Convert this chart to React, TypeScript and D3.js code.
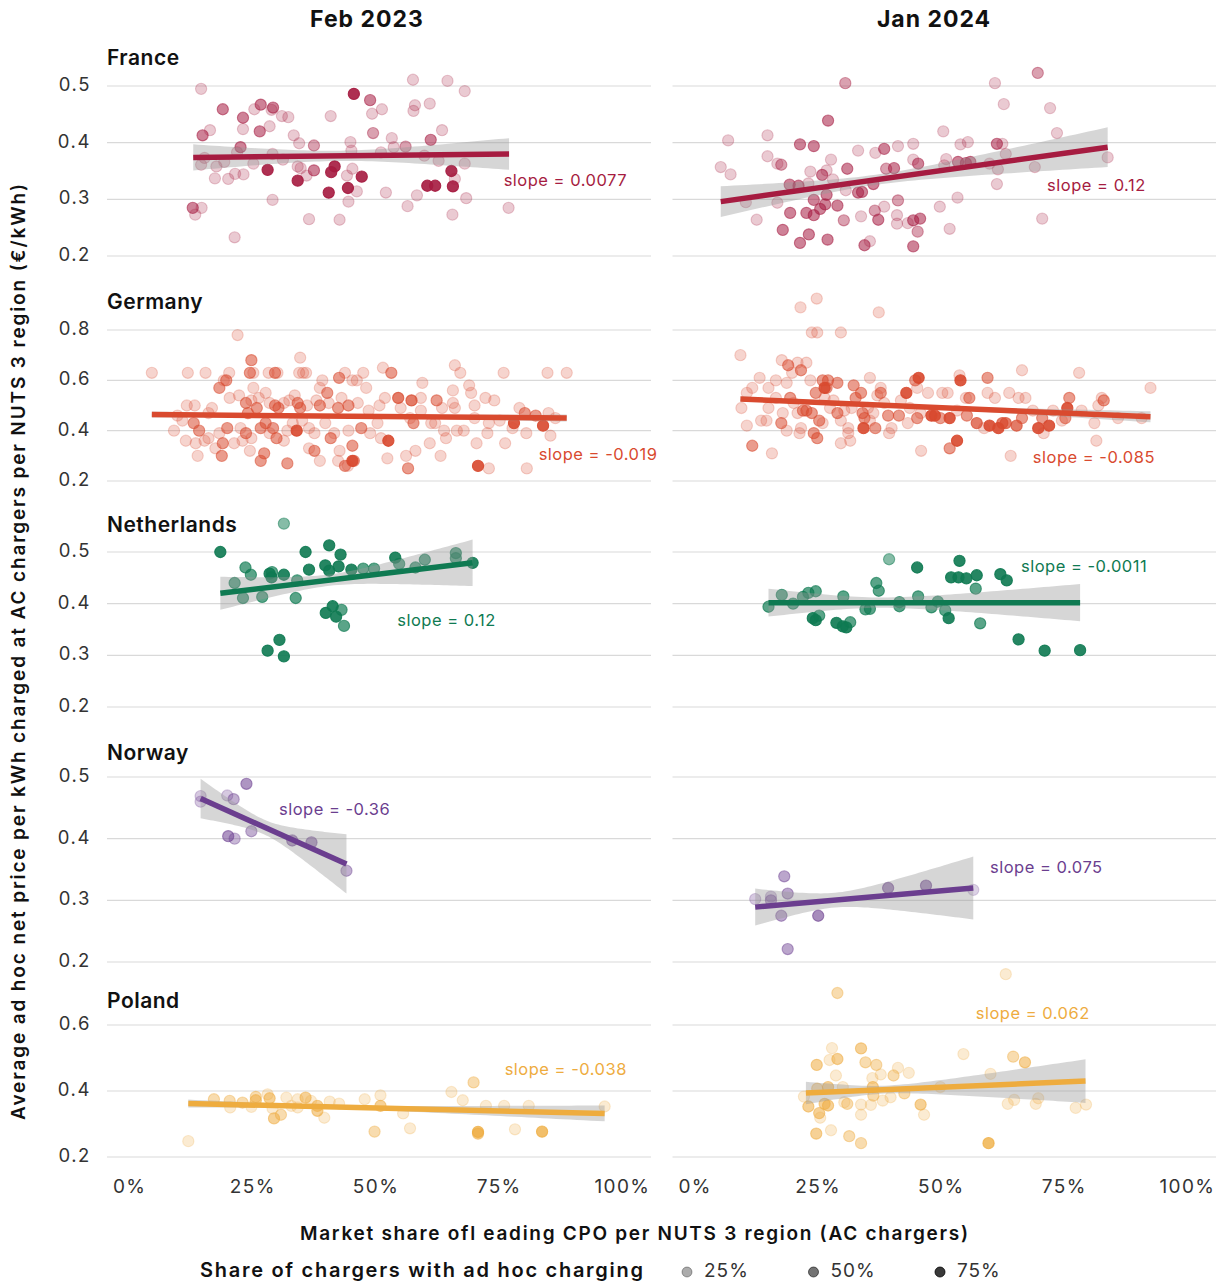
import React from "react";
import * as d3 from "d3";

// ---- data ----
const countries = ["France", "Germany", "Netherlands", "Norway", "Poland"];
const periods = ["Feb 2023", "Jan 2024"];
const countryColors = ["#a61c41", "#d94a2f", "#0f7a52", "#6b3e8f", "#eeac3f"];

const yTicks = [
  [0.2, 0.3, 0.4, 0.5],
  [0.2, 0.4, 0.6, 0.8],
  [0.2, 0.3, 0.4, 0.5],
  [0.2, 0.3, 0.4, 0.5],
  [0.2, 0.4, 0.6],
];
const xTicks = [0, 0.25, 0.5, 0.75, 1];
const legendShares = [0.25, 0.5, 0.75];

// points: [market share of leading CPO, price €/kWh, share with ad hoc charging]
const franceFeb2023 = [
  [0.141, 0.495, 0.15], [0.571, 0.511, 0.15], [0.641, 0.509, 0.15], [0.676, 0.491, 0.15], [0.451, 0.486, 0.9],
  [0.484, 0.475, 0.5], [0.185, 0.459, 0.5], [0.262, 0.467, 0.5], [0.249, 0.459, 0.15], [0.287, 0.462, 0.5],
  [0.284, 0.458, 0.15], [0.226, 0.444, 0.5], [0.305, 0.447, 0.15], [0.318, 0.445, 0.15], [0.404, 0.447, 0.15],
  [0.508, 0.459, 0.15], [0.488, 0.451, 0.15], [0.575, 0.466, 0.15], [0.572, 0.456, 0.15], [0.605, 0.469, 0.15],
  [0.159, 0.422, 0.15], [0.144, 0.413, 0.5], [0.226, 0.424, 0.15], [0.26, 0.42, 0.5], [0.28, 0.429, 0.15],
  [0.329, 0.413, 0.15], [0.34, 0.399, 0.15], [0.37, 0.395, 0.35], [0.444, 0.401, 0.15], [0.49, 0.417, 0.35],
  [0.528, 0.408, 0.15], [0.607, 0.405, 0.5], [0.63, 0.422, 0.15], [0.221, 0.392, 0.5], [0.214, 0.383, 0.15],
  [0.148, 0.373, 0.15], [0.141, 0.361, 0.15], [0.172, 0.358, 0.15], [0.188, 0.366, 0.15], [0.247, 0.363, 0.15],
  [0.286, 0.38, 0.15], [0.307, 0.37, 0.15], [0.276, 0.352, 0.9], [0.169, 0.337, 0.15], [0.196, 0.336, 0.15],
  [0.21, 0.345, 0.15], [0.227, 0.344, 0.15], [0.337, 0.358, 0.15], [0.343, 0.355, 0.15], [0.355, 0.342, 0.15],
  [0.37, 0.351, 0.5], [0.412, 0.358, 0.9], [0.405, 0.348, 0.9], [0.437, 0.342, 0.15], [0.448, 0.354, 0.15],
  [0.446, 0.386, 0.15], [0.467, 0.34, 0.9], [0.337, 0.333, 0.9], [0.4, 0.312, 0.9], [0.439, 0.32, 0.9],
  [0.457, 0.314, 0.15], [0.44, 0.296, 0.15], [0.516, 0.312, 0.15], [0.506, 0.383, 0.15], [0.532, 0.392, 0.15],
  [0.556, 0.393, 0.35], [0.594, 0.377, 0.15], [0.623, 0.368, 0.15], [0.676, 0.363, 0.15], [0.649, 0.35, 0.9],
  [0.656, 0.336, 0.15], [0.6, 0.324, 0.9], [0.616, 0.324, 0.9], [0.652, 0.323, 0.9], [0.579, 0.307, 0.15],
  [0.56, 0.288, 0.15], [0.679, 0.302, 0.15], [0.765, 0.285, 0.15], [0.651, 0.273, 0.15], [0.286, 0.299, 0.15],
  [0.124, 0.285, 0.5], [0.142, 0.285, 0.15], [0.129, 0.273, 0.15], [0.209, 0.233, 0.15], [0.36, 0.265, 0.15],
  [0.422, 0.264, 0.15],
];

const franceJan2024 = [
  [0.692, 0.523, 0.35], [0.301, 0.505, 0.35], [0.605, 0.505, 0.15], [0.623, 0.468, 0.15], [0.717, 0.461, 0.15],
  [0.266, 0.439, 0.5], [0.731, 0.417, 0.15], [0.063, 0.404, 0.15], [0.143, 0.413, 0.15], [0.209, 0.397, 0.5],
  [0.237, 0.394, 0.5], [0.327, 0.386, 0.15], [0.362, 0.382, 0.15], [0.38, 0.389, 0.5], [0.408, 0.394, 0.15],
  [0.439, 0.398, 0.15], [0.5, 0.42, 0.15], [0.535, 0.397, 0.15], [0.55, 0.401, 0.15], [0.609, 0.398, 0.5],
  [0.62, 0.398, 0.15], [0.143, 0.376, 0.15], [0.163, 0.363, 0.15], [0.171, 0.361, 0.35], [0.048, 0.357, 0.15],
  [0.068, 0.344, 0.15], [0.272, 0.37, 0.15], [0.23, 0.349, 0.15], [0.254, 0.343, 0.5], [0.263, 0.351, 0.15],
  [0.305, 0.354, 0.5], [0.384, 0.354, 0.35], [0.4, 0.355, 0.5], [0.439, 0.37, 0.15], [0.449, 0.363, 0.5],
  [0.506, 0.371, 0.15], [0.53, 0.366, 0.5], [0.546, 0.364, 0.5], [0.555, 0.366, 0.5], [0.502, 0.36, 0.15],
  [0.594, 0.363, 0.15], [0.611, 0.353, 0.15], [0.627, 0.38, 0.15], [0.686, 0.357, 0.15], [0.834, 0.374, 0.15],
  [0.609, 0.327, 0.15], [0.188, 0.326, 0.5], [0.206, 0.324, 0.5], [0.226, 0.328, 0.15], [0.276, 0.335, 0.15],
  [0.263, 0.308, 0.5], [0.26, 0.291, 0.5], [0.25, 0.283, 0.5], [0.237, 0.299, 0.5], [0.285, 0.289, 0.5],
  [0.302, 0.316, 0.15], [0.327, 0.312, 0.5], [0.335, 0.313, 0.5], [0.358, 0.327, 0.5], [0.099, 0.295, 0.15],
  [0.163, 0.294, 0.15], [0.121, 0.264, 0.15], [0.189, 0.276, 0.5], [0.222, 0.276, 0.5], [0.237, 0.272, 0.5],
  [0.174, 0.246, 0.5], [0.227, 0.238, 0.5], [0.209, 0.223, 0.5], [0.265, 0.229, 0.5], [0.298, 0.263, 0.35],
  [0.333, 0.27, 0.15], [0.34, 0.219, 0.5], [0.351, 0.226, 0.15], [0.361, 0.28, 0.35], [0.368, 0.264, 0.5],
  [0.38, 0.287, 0.15], [0.406, 0.272, 0.15], [0.408, 0.298, 0.35], [0.406, 0.257, 0.15], [0.428, 0.258, 0.15],
  [0.439, 0.263, 0.5], [0.453, 0.266, 0.5], [0.448, 0.243, 0.35], [0.439, 0.217, 0.5], [0.493, 0.287, 0.15],
  [0.513, 0.248, 0.15], [0.529, 0.303, 0.15], [0.701, 0.266, 0.15],
];

const germanyFeb2023 = [
  [0.041, 0.63, 0.15], [0.114, 0.63, 0.15], [0.15, 0.63, 0.15], [0.198, 0.63, 0.15], [0.24, 0.63, 0.5],
  [0.247, 0.63, 0.15], [0.278, 0.63, 0.15], [0.291, 0.63, 0.5], [0.296, 0.63, 0.15], [0.34, 0.63, 0.15],
  [0.348, 0.63, 0.15], [0.354, 0.63, 0.15], [0.433, 0.63, 0.15], [0.47, 0.63, 0.15], [0.755, 0.63, 0.15],
  [0.844, 0.63, 0.15], [0.883, 0.63, 0.15], [0.215, 0.78, 0.15], [0.342, 0.69, 0.15], [0.243, 0.68, 0.5],
  [0.51, 0.65, 0.15], [0.527, 0.63, 0.5], [0.656, 0.66, 0.15], [0.667, 0.63, 0.15], [0.192, 0.6, 0.5],
  [0.187, 0.6, 0.15], [0.178, 0.57, 0.5], [0.247, 0.57, 0.15], [0.387, 0.6, 0.15], [0.421, 0.61, 0.5],
  [0.448, 0.6, 0.15], [0.457, 0.6, 0.15], [0.382, 0.57, 0.15], [0.397, 0.55, 0.5], [0.476, 0.57, 0.15],
  [0.59, 0.59, 0.15], [0.652, 0.56, 0.15], [0.685, 0.58, 0.15], [0.689, 0.55, 0.15], [0.199, 0.53, 0.15],
  [0.218, 0.54, 0.15], [0.232, 0.51, 0.5], [0.243, 0.52, 0.15], [0.258, 0.53, 0.15], [0.272, 0.55, 0.15],
  [0.254, 0.49, 0.5], [0.236, 0.47, 0.5], [0.28, 0.51, 0.15], [0.291, 0.5, 0.5], [0.298, 0.49, 0.5],
  [0.309, 0.51, 0.15], [0.32, 0.52, 0.15], [0.331, 0.54, 0.15], [0.342, 0.49, 0.5], [0.337, 0.51, 0.5],
  [0.356, 0.5, 0.15], [0.375, 0.52, 0.15], [0.382, 0.5, 0.5], [0.4, 0.51, 0.15], [0.419, 0.49, 0.5],
  [0.426, 0.53, 0.15], [0.44, 0.5, 0.5], [0.459, 0.51, 0.15], [0.481, 0.48, 0.15], [0.503, 0.5, 0.15],
  [0.514, 0.53, 0.15], [0.541, 0.53, 0.7], [0.546, 0.49, 0.15], [0.568, 0.52, 0.7], [0.587, 0.53, 0.15],
  [0.587, 0.48, 0.15], [0.619, 0.52, 0.5], [0.63, 0.49, 0.15], [0.652, 0.51, 0.15], [0.656, 0.49, 0.15],
  [0.696, 0.5, 0.15], [0.718, 0.53, 0.15], [0.736, 0.52, 0.15], [0.787, 0.49, 0.15], [0.798, 0.47, 0.5],
  [0.82, 0.46, 0.5], [0.86, 0.45, 0.15], [0.846, 0.47, 0.15], [0.112, 0.5, 0.15], [0.128, 0.5, 0.15],
  [0.093, 0.46, 0.15], [0.103, 0.44, 0.15], [0.163, 0.49, 0.15], [0.156, 0.47, 0.15], [0.126, 0.43, 0.5],
  [0.137, 0.4, 0.5], [0.086, 0.4, 0.15], [0.11, 0.36, 0.15], [0.13, 0.35, 0.15], [0.148, 0.36, 0.15],
  [0.156, 0.37, 0.15], [0.178, 0.39, 0.15], [0.194, 0.41, 0.5], [0.185, 0.35, 0.5], [0.17, 0.33, 0.15],
  [0.134, 0.3, 0.15], [0.183, 0.3, 0.5], [0.208, 0.35, 0.15], [0.225, 0.36, 0.15], [0.232, 0.39, 0.5],
  [0.221, 0.41, 0.15], [0.24, 0.32, 0.15], [0.243, 0.37, 0.15], [0.262, 0.41, 0.5], [0.272, 0.43, 0.5],
  [0.287, 0.41, 0.5], [0.28, 0.39, 0.15], [0.269, 0.31, 0.5], [0.262, 0.28, 0.5], [0.294, 0.37, 0.5],
  [0.309, 0.36, 0.15], [0.316, 0.4, 0.15], [0.335, 0.4, 0.9], [0.327, 0.43, 0.15], [0.346, 0.44, 0.15],
  [0.36, 0.41, 0.15], [0.371, 0.39, 0.15], [0.36, 0.33, 0.15], [0.371, 0.32, 0.5], [0.382, 0.28, 0.15],
  [0.393, 0.43, 0.15], [0.404, 0.37, 0.5], [0.411, 0.39, 0.15], [0.422, 0.32, 0.15], [0.419, 0.28, 0.15],
  [0.433, 0.26, 0.5], [0.439, 0.26, 0.15], [0.448, 0.34, 0.5], [0.451, 0.28, 0.5], [0.44, 0.4, 0.15],
  [0.466, 0.41, 0.5], [0.484, 0.39, 0.15], [0.499, 0.43, 0.15], [0.521, 0.36, 0.9], [0.506, 0.37, 0.15],
  [0.519, 0.29, 0.15], [0.557, 0.3, 0.15], [0.561, 0.25, 0.5], [0.576, 0.32, 0.15], [0.572, 0.43, 0.5],
  [0.565, 0.45, 0.15], [0.605, 0.35, 0.15], [0.608, 0.43, 0.15], [0.616, 0.43, 0.15], [0.634, 0.4, 0.15],
  [0.627, 0.3, 0.15], [0.638, 0.37, 0.15], [0.66, 0.4, 0.15], [0.674, 0.4, 0.15], [0.696, 0.45, 0.15],
  [0.7, 0.35, 0.15], [0.722, 0.39, 0.15], [0.725, 0.43, 0.15], [0.747, 0.44, 0.15], [0.758, 0.35, 0.15],
  [0.773, 0.41, 0.15], [0.776, 0.43, 0.9], [0.801, 0.39, 0.15], [0.835, 0.42, 0.9], [0.85, 0.38, 0.15],
  [0.802, 0.25, 0.15], [0.703, 0.26, 0.9], [0.725, 0.25, 0.15], [0.316, 0.27, 0.5], [0.448, 0.28, 0.9],
];

const germanyJan2024 = [
  [0.21, 0.89, 0.15], [0.243, 0.925, 0.15], [0.369, 0.87, 0.15], [0.233, 0.79, 0.15], [0.244, 0.79, 0.15],
  [0.292, 0.79, 0.15], [0.088, 0.7, 0.15], [0.172, 0.68, 0.15], [0.185, 0.66, 0.5], [0.204, 0.67, 0.15],
  [0.222, 0.67, 0.15], [0.211, 0.64, 0.5], [0.193, 0.63, 0.15], [0.127, 0.61, 0.15], [0.112, 0.57, 0.15],
  [0.145, 0.57, 0.15], [0.16, 0.6, 0.15], [0.182, 0.59, 0.15], [0.23, 0.6, 0.15], [0.266, 0.6, 0.5],
  [0.285, 0.59, 0.5], [0.263, 0.57, 0.5], [0.318, 0.58, 0.5], [0.351, 0.61, 0.15], [0.373, 0.57, 0.15],
  [0.45, 0.61, 0.9], [0.443, 0.6, 0.5], [0.535, 0.6, 0.9], [0.533, 0.62, 0.15], [0.59, 0.61, 0.5],
  [0.66, 0.64, 0.15], [0.776, 0.63, 0.15], [0.921, 0.57, 0.15], [0.756, 0.53, 0.5], [0.822, 0.53, 0.15],
  [0.826, 0.52, 0.5], [0.815, 0.5, 0.15], [0.807, 0.43, 0.15], [0.811, 0.36, 0.15], [0.101, 0.55, 0.15],
  [0.09, 0.49, 0.15], [0.101, 0.42, 0.15], [0.13, 0.44, 0.15], [0.141, 0.44, 0.15], [0.145, 0.49, 0.15],
  [0.16, 0.53, 0.15], [0.171, 0.43, 0.5], [0.174, 0.47, 0.15], [0.189, 0.53, 0.5], [0.196, 0.51, 0.15],
  [0.204, 0.47, 0.15], [0.211, 0.41, 0.15], [0.215, 0.48, 0.5], [0.222, 0.48, 0.5], [0.233, 0.47, 0.5],
  [0.241, 0.55, 0.5], [0.248, 0.44, 0.5], [0.255, 0.43, 0.15], [0.259, 0.57, 0.9], [0.259, 0.53, 0.15],
  [0.27, 0.49, 0.15], [0.277, 0.52, 0.15], [0.285, 0.47, 0.5], [0.292, 0.44, 0.15], [0.299, 0.48, 0.15],
  [0.307, 0.41, 0.15], [0.314, 0.49, 0.15], [0.322, 0.53, 0.5], [0.333, 0.55, 0.5], [0.336, 0.47, 0.5],
  [0.34, 0.45, 0.5], [0.347, 0.49, 0.15], [0.351, 0.44, 0.15], [0.358, 0.47, 0.15], [0.366, 0.54, 0.15],
  [0.373, 0.55, 0.5], [0.38, 0.51, 0.15], [0.237, 0.39, 0.5], [0.244, 0.37, 0.5], [0.182, 0.4, 0.15],
  [0.208, 0.39, 0.15], [0.292, 0.35, 0.15], [0.311, 0.36, 0.15], [0.307, 0.39, 0.15], [0.112, 0.34, 0.5],
  [0.152, 0.31, 0.15], [0.338, 0.41, 0.9], [0.362, 0.41, 0.5], [0.39, 0.39, 0.15], [0.388, 0.46, 0.5],
  [0.41, 0.46, 0.5], [0.425, 0.55, 0.9], [0.414, 0.52, 0.15], [0.432, 0.49, 0.15], [0.447, 0.45, 0.5],
  [0.454, 0.47, 0.15], [0.469, 0.55, 0.15], [0.476, 0.46, 0.9], [0.483, 0.46, 0.9], [0.494, 0.45, 0.5],
  [0.498, 0.55, 0.15], [0.509, 0.55, 0.15], [0.513, 0.45, 0.9], [0.528, 0.48, 0.15], [0.546, 0.53, 0.15],
  [0.553, 0.53, 0.5], [0.548, 0.46, 0.5], [0.568, 0.43, 0.7], [0.583, 0.41, 0.15], [0.59, 0.55, 0.15],
  [0.594, 0.42, 0.9], [0.605, 0.53, 0.15], [0.612, 0.41, 0.9], [0.62, 0.43, 0.7], [0.627, 0.43, 0.7],
  [0.634, 0.55, 0.15], [0.649, 0.42, 0.7], [0.66, 0.45, 0.5], [0.653, 0.53, 0.15], [0.667, 0.53, 0.15],
  [0.682, 0.48, 0.15], [0.693, 0.41, 0.9], [0.701, 0.45, 0.5], [0.704, 0.39, 0.15], [0.715, 0.42, 0.9],
  [0.723, 0.48, 0.15], [0.741, 0.44, 0.15], [0.752, 0.49, 0.9], [0.748, 0.45, 0.5], [0.781, 0.48, 0.15],
  [0.855, 0.45, 0.15], [0.903, 0.45, 0.15], [0.528, 0.36, 0.9], [0.513, 0.33, 0.5], [0.455, 0.32, 0.15],
  [0.637, 0.3, 0.15], [0.395, 0.41, 0.15], [0.428, 0.43, 0.15], [0.255, 0.6, 0.5], [0.447, 0.57, 0.15],
];

const netherlandsFeb2023 = [
  [0.309, 0.555, 0.45], [0.18, 0.5, 0.9], [0.353, 0.5, 0.9], [0.401, 0.513, 0.9], [0.424, 0.495, 0.9],
  [0.231, 0.47, 0.65], [0.242, 0.456, 0.65], [0.209, 0.44, 0.65], [0.226, 0.411, 0.65], [0.265, 0.413, 0.65],
  [0.28, 0.458, 0.9], [0.285, 0.461, 0.65], [0.284, 0.451, 0.9], [0.309, 0.456, 0.9], [0.336, 0.445, 0.65],
  [0.333, 0.411, 0.65], [0.36, 0.466, 0.9], [0.393, 0.474, 0.9], [0.401, 0.464, 0.9], [0.42, 0.472, 0.9],
  [0.446, 0.466, 0.9], [0.47, 0.468, 0.65], [0.492, 0.468, 0.65], [0.535, 0.489, 0.9], [0.543, 0.477, 0.65],
  [0.576, 0.47, 0.65], [0.595, 0.485, 0.65], [0.658, 0.498, 0.65], [0.658, 0.488, 0.65], [0.692, 0.479, 0.9],
  [0.408, 0.395, 0.9], [0.394, 0.382, 0.9], [0.415, 0.375, 0.9], [0.426, 0.388, 0.65], [0.431, 0.357, 0.65],
  [0.3, 0.33, 0.9], [0.276, 0.309, 0.9], [0.309, 0.298, 0.9],
];

const netherlandsJan2024 = [
  [0.39, 0.486, 0.45], [0.447, 0.47, 0.9], [0.533, 0.483, 0.9], [0.516, 0.451, 0.9], [0.531, 0.451, 0.9],
  [0.547, 0.449, 0.9], [0.568, 0.455, 0.9], [0.616, 0.457, 0.9], [0.629, 0.445, 0.9], [0.566, 0.429, 0.65],
  [0.364, 0.44, 0.65], [0.369, 0.425, 0.65], [0.172, 0.417, 0.65], [0.145, 0.394, 0.65], [0.195, 0.4, 0.65],
  [0.215, 0.413, 0.65], [0.226, 0.421, 0.65], [0.241, 0.424, 0.65], [0.297, 0.414, 0.65], [0.235, 0.372, 0.9],
  [0.241, 0.368, 0.9], [0.248, 0.377, 0.65], [0.283, 0.363, 0.9], [0.296, 0.356, 0.9], [0.303, 0.354, 0.9],
  [0.311, 0.364, 0.65], [0.342, 0.389, 0.65], [0.351, 0.39, 0.65], [0.411, 0.403, 0.65], [0.411, 0.395, 0.65],
  [0.449, 0.414, 0.65], [0.476, 0.393, 0.65], [0.489, 0.404, 0.65], [0.504, 0.387, 0.65], [0.511, 0.372, 0.9],
  [0.575, 0.362, 0.65], [0.653, 0.331, 0.9], [0.706, 0.309, 0.9], [0.778, 0.31, 0.9],
];

const norwayFeb2023 = [
  [0.233, 0.489, 0.5], [0.14, 0.469, 0.2], [0.14, 0.46, 0.2], [0.194, 0.47, 0.2], [0.207, 0.464, 0.35],
  [0.196, 0.404, 0.5], [0.209, 0.4, 0.3], [0.243, 0.412, 0.35], [0.326, 0.397, 0.5], [0.365, 0.394, 0.5],
  [0.436, 0.348, 0.35],
];

const norwayJan2024 = [
  [0.177, 0.339, 0.4], [0.118, 0.302, 0.2], [0.15, 0.306, 0.2], [0.15, 0.3, 0.4], [0.184, 0.311, 0.4],
  [0.171, 0.275, 0.4], [0.246, 0.275, 0.55], [0.184, 0.221, 0.4], [0.388, 0.32, 0.55], [0.465, 0.324, 0.55],
  [0.561, 0.317, 0.15],
];

const polandFeb2023 = [
  [0.115, 0.248, 0.15], [0.167, 0.375, 0.35], [0.199, 0.37, 0.35], [0.2, 0.35, 0.15], [0.225, 0.365, 0.35],
  [0.243, 0.352, 0.15], [0.252, 0.382, 0.35], [0.252, 0.372, 0.5], [0.276, 0.39, 0.15], [0.28, 0.378, 0.5],
  [0.286, 0.347, 0.15], [0.289, 0.317, 0.5], [0.303, 0.328, 0.35], [0.314, 0.38, 0.15], [0.324, 0.355, 0.15],
  [0.337, 0.375, 0.15], [0.337, 0.35, 0.15], [0.353, 0.38, 0.5], [0.364, 0.37, 0.15], [0.377, 0.355, 0.5],
  [0.377, 0.34, 0.5], [0.391, 0.319, 0.15], [0.402, 0.368, 0.15], [0.421, 0.362, 0.15], [0.473, 0.375, 0.15],
  [0.493, 0.277, 0.35], [0.505, 0.387, 0.15], [0.505, 0.355, 0.5], [0.551, 0.332, 0.15], [0.565, 0.287, 0.15],
  [0.649, 0.397, 0.15], [0.672, 0.372, 0.15], [0.694, 0.426, 0.35], [0.703, 0.276, 0.75], [0.703, 0.271, 0.5],
  [0.719, 0.355, 0.15], [0.756, 0.355, 0.15], [0.778, 0.284, 0.15], [0.806, 0.355, 0.15], [0.833, 0.277, 0.75],
  [0.96, 0.353, 0.15],
];

const polandJan2024 = [
  [0.627, 0.754, 0.15], [0.285, 0.697, 0.35], [0.274, 0.53, 0.15], [0.333, 0.529, 0.5], [0.269, 0.494, 0.15],
  [0.285, 0.497, 0.5], [0.243, 0.479, 0.5], [0.342, 0.487, 0.35], [0.364, 0.479, 0.35], [0.282, 0.447, 0.15],
  [0.373, 0.45, 0.15], [0.356, 0.439, 0.15], [0.399, 0.447, 0.35], [0.408, 0.47, 0.15], [0.43, 0.455, 0.15],
  [0.541, 0.512, 0.15], [0.642, 0.504, 0.35], [0.666, 0.487, 0.5], [0.596, 0.452, 0.15], [0.494, 0.412, 0.15],
  [0.244, 0.407, 0.35], [0.266, 0.412, 0.5], [0.296, 0.412, 0.15], [0.357, 0.412, 0.5], [0.358, 0.386, 0.35],
  [0.421, 0.393, 0.35], [0.217, 0.383, 0.15], [0.226, 0.353, 0.5], [0.248, 0.333, 0.5], [0.25, 0.319, 0.15],
  [0.259, 0.361, 0.5], [0.266, 0.356, 0.5], [0.299, 0.366, 0.15], [0.305, 0.361, 0.35], [0.333, 0.359, 0.15],
  [0.333, 0.328, 0.15], [0.353, 0.358, 0.15], [0.377, 0.371, 0.15], [0.393, 0.381, 0.15], [0.454, 0.359, 0.5],
  [0.461, 0.328, 0.15], [0.242, 0.271, 0.5], [0.272, 0.281, 0.15], [0.309, 0.263, 0.35], [0.333, 0.242, 0.35],
  [0.592, 0.242, 0.75], [0.631, 0.361, 0.15], [0.644, 0.373, 0.15], [0.688, 0.361, 0.15], [0.693, 0.378, 0.15],
  [0.769, 0.349, 0.15], [0.79, 0.359, 0.15],
];

// one entry per country, [Feb 2023, Jan 2024]
const panelPoints = [
  [franceFeb2023, franceJan2024],
  [germanyFeb2023, germanyJan2024],
  [netherlandsFeb2023, netherlandsJan2024],
  [norwayFeb2023, norwayJan2024],
  [polandFeb2023, polandJan2024],
];

// fitted lm line: [x start, x end, y start, y end]
const fitLines = [
  [[0.125, 0.766, 0.374, 0.38], [0.048, 0.834, 0.296, 0.392]],
  [[0.041, 0.883, 0.464, 0.45], [0.088, 0.921, 0.526, 0.455]],
  [[0.18, 0.692, 0.42, 0.479], [0.145, 0.778, 0.402, 0.402]],
  [[0.14, 0.436, 0.465, 0.359], [0.118, 0.561, 0.289, 0.32]],
  [[0.115, 0.96, 0.362, 0.332], [0.221, 0.789, 0.394, 0.43]],
];
// confidence band: [half-width at start, x of narrowest point, narrowest half-width, half-width at end]
const fitBands = [
  [[0.023, 0.42, 0.009, 0.028], [0.027, 0.36, 0.009, 0.035]],
  [[0.012, 0.38, 0.005, 0.014], [0.01, 0.4, 0.005, 0.022]],
  [[0.032, 0.4, 0.011, 0.045], [0.027, 0.37, 0.01, 0.036]],
  [[0.032, 0.27, 0.012, 0.048], [0.03, 0.28, 0.012, 0.051]],
  [[0.012, 0.4, 0.005, 0.024], [0.034, 0.38, 0.012, 0.066]],
];
const slopeTexts = [
  ["slope = 0.0077", "slope = 0.12"],
  ["slope = -0.019", "slope = -0.085"],
  ["slope = 0.12", "slope = -0.0011"],
  ["slope = -0.36", "slope = 0.075"],
  ["slope = -0.038", "slope = 0.062"],
];
const slopeTextAt = [
  [[0.755, 0.331], [0.711, 0.322]],
  [[0.826, 0.303], [0.682, 0.291]],
  [[0.539, 0.365], [0.658, 0.47]],
  [[0.299, 0.446], [0.595, 0.351]],
  [[0.757, 0.461], [0.566, 0.633]],
];

// ---- layout ----
const W = 1228;
const H = 1286;
const FONT = "Inter, Lato, 'DejaVu Sans', sans-serif";
const colRanges = [[107, 649], [672.5, 1214]];
const rowRanges = [[256, 86], [481, 330], [707, 552], [962, 777], [1157, 1025]];
const rowTitleY = [59, 303, 526, 754, 1002];

const xScales = colRanges.map((r) => d3.scaleLinear().domain([-0.05, 1.05]).range(r));
const yScales = yTicks.map((t, i) =>
  d3.scaleLinear().domain([t[0], t[t.length - 1]]).range(rowRanges[i])
);
const alpha = d3.scaleLinear().domain([0, 1]).range([0.1, 1]);
const fmtY = d3.format(".1f");
const fmtPct = d3.format(".0%");

function bandData(line, band) {
  const [x0, x1, y0, y1] = line;
  const [h0, xm, hm, h1] = band;
  return d3.range(0, 61).map((i) => {
    const x = x0 + ((x1 - x0) * i) / 60;
    const y = y0 + ((y1 - y0) * (x - x0)) / (x1 - x0);
    const left = x < xm;
    const he = left ? h0 : h1;
    const xe = left ? x0 : x1;
    const b = (he * he - hm * hm) / ((xe - xm) * (xe - xm));
    const h = Math.sqrt(hm * hm + b * (x - xm) * (x - xm));
    return { x, lo: y - h, hi: y + h };
  });
}

const Panel = ({ row, col }) => {
  const xs = xScales[col];
  const ys = yScales[row];
  const color = countryColors[row];
  const line = fitLines[row][col];
  const area = d3
    .area()
    .x((d) => xs(d.x))
    .y0((d) => ys(d.lo))
    .y1((d) => ys(d.hi));
  const [lx, ly] = slopeTextAt[row][col];
  return (
    <g>
      {yTicks[row].map((t) => (
        <line key={t} x1={colRanges[col][0]} x2={colRanges[col][1] + 2} y1={ys(t)} y2={ys(t)} stroke="#d9d9d9" strokeWidth={1.2} />
      ))}
      {panelPoints[row][col].map((p, i) => (
        <circle
          key={i}
          cx={xs(p[0])}
          cy={ys(p[1])}
          r={5.6}
          fill={color}
          fillOpacity={alpha(p[2])}
          stroke={color}
          strokeOpacity={alpha(p[2])}
          strokeWidth={1.1}
        />
      ))}
      <path d={area(bandData(line, fitBands[row][col]))} fill="#999999" fillOpacity={0.4} />
      <line x1={xs(line[0])} x2={xs(line[1])} y1={ys(line[2])} y2={ys(line[3])} stroke={color} strokeWidth={5.5} />
      <text x={xs(lx)} y={ys(ly)} fill={color} fontSize={16.5} letterSpacing={0.5} dominantBaseline="middle" fontFamily={FONT}>
        {slopeTexts[row][col]}
      </text>
    </g>
  );
};

const App = () => {
  return (
    <svg width={W} height={H} style={{ position: "absolute", left: 0, top: 0, background: "#fff" }} fontFamily={FONT}>
      <rect width={W} height={H} fill="#fff" />
      {periods.map((p, c) => (
        <text key={p} x={c === 0 ? 367 : 934} y={21} textAnchor="middle" dominantBaseline="middle" fontSize={23} letterSpacing={1} fontWeight={700} fill="#111">
          {p}
        </text>
      ))}
      {countries.map((name, r) => (
        <g key={name}>
          <text x={107} y={rowTitleY[r]} dominantBaseline="middle" fontSize={21} letterSpacing={0.5} fontWeight={600} fill="#111">
            {name}
          </text>
          {yTicks[r].map((t) => (
            <text key={t} x={91} y={yScales[r](t)} textAnchor="end" dominantBaseline="middle" fontSize={18.5} letterSpacing={1.6} fill="#333">
              {fmtY(t)}
            </text>
          ))}
          {periods.map((p, c) => (
            <Panel key={p} row={r} col={c} />
          ))}
        </g>
      ))}
      {xScales.map((xs, c) =>
        xTicks.map((t) => (
          <text key={`${c}-${t}`} x={xs(t) - 2} y={1188} textAnchor="middle" dominantBaseline="middle" fontSize={19} letterSpacing={1.4} fill="#333">
            {fmtPct(t)}
          </text>
        ))
      )}
      <text
        x={300}
        y={1235}
        dominantBaseline="middle"
        fontSize={19}
        fontWeight={600}
        fill="#111"
        textLength={668}
        lengthAdjust="spacing"
      >
        Market share ofl eading CPO per NUTS 3 region (AC chargers)
      </text>
      <text
        transform="translate(20,1120) rotate(-90)"
        dominantBaseline="middle"
        fontSize={19}
        fontWeight={600}
        fill="#111"
        textLength={936}
        lengthAdjust="spacing"
      >
        Average ad hoc net price per kWh charged at AC chargers per NUTS 3 region (€/kWh)
      </text>
      <g>
        <text
          x={200}
          y={1272}
          dominantBaseline="middle"
          fontSize={20}
          fontWeight={600}
          fill="#111"
          textLength={443}
          lengthAdjust="spacing"
        >
          Share of chargers with ad hoc charging
        </text>
        {legendShares.map((s, i) => (
          <g key={s} transform={`translate(${687 + i * 126.5},1272)`}>
            <circle r={5} fill="#000" fillOpacity={alpha(s)} stroke="#000" strokeOpacity={alpha(s)} strokeWidth={1} />
            <text x={17} dominantBaseline="middle" fontSize={19} letterSpacing={1} fill="#333">
              {fmtPct(s)}
            </text>
          </g>
        ))}
      </g>
    </svg>
  );
};

export default App;
